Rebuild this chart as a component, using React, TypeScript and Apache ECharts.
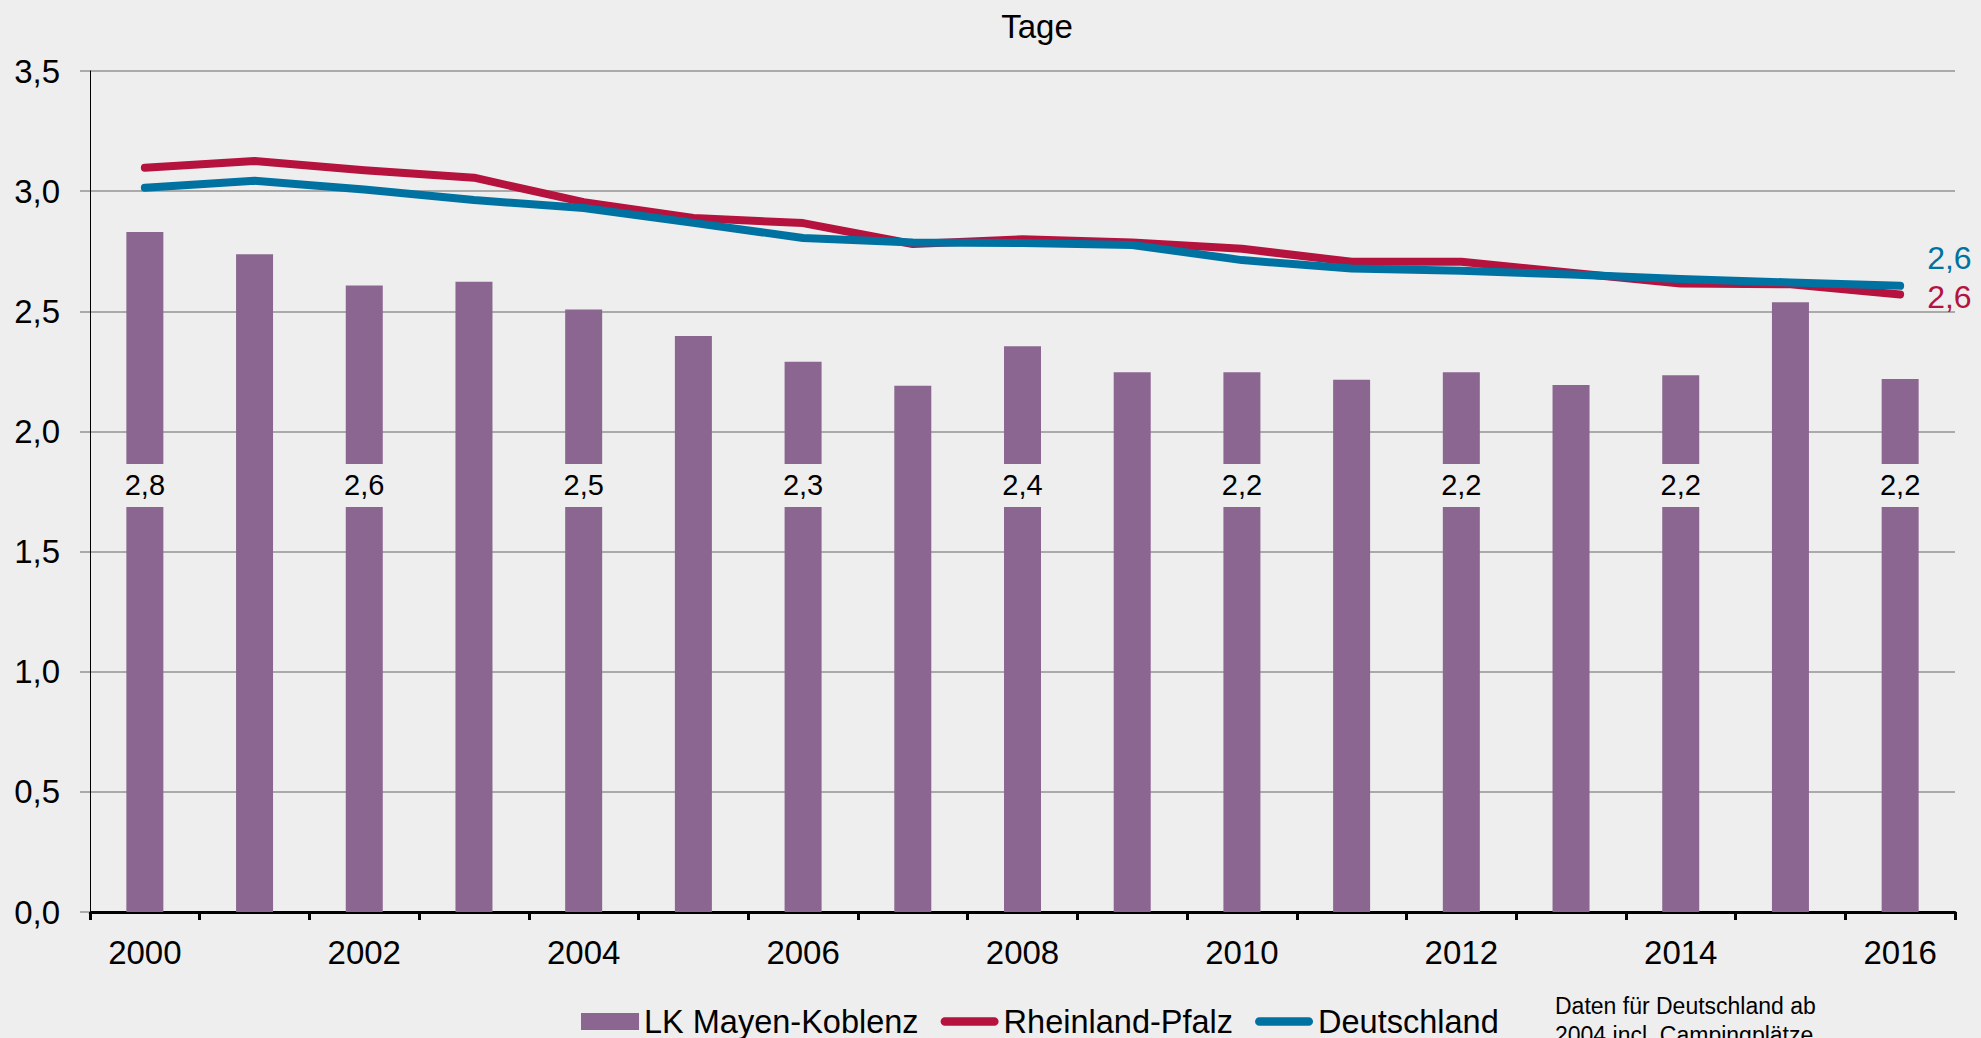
import React, { useEffect, useRef } from "react";
import * as echarts from "echarts";

const years = ["2000", "2001", "2002", "2003", "2004", "2005", "2006", "2007", "2008", "2009", "2010", "2011", "2012", "2013", "2014", "2015", "2016"];
const lkValues = [2.83, 2.737, 2.607, 2.623, 2.507, 2.397, 2.29, 2.19, 2.355, 2.246, 2.246, 2.215, 2.246, 2.193, 2.234, 2.538, 2.218];
const rlpValues = [3.097, 3.125, 3.087, 3.056, 2.954, 2.888, 2.867, 2.78, 2.8, 2.786, 2.76, 2.706, 2.706, 2.66, 2.616, 2.612, 2.57];
const deValues = [3.014, 3.043, 3.007, 2.963, 2.93, 2.868, 2.805, 2.786, 2.784, 2.776, 2.713, 2.678, 2.669, 2.653, 2.634, 2.62, 2.606];
const labelledYears = ["2000", "2002", "2004", "2006", "2008", "2010", "2012", "2014", "2016"];
const LABEL_LEVEL = 1.775;
const yTicks = { min: 0, max: 3.5, interval: 0.5 };
const titleText = "Tage";
const noteText = "Daten für Deutschland ab\n2004 incl. Campingplätze";

const FONT = "'Liberation Sans', Arial, Helvetica, sans-serif";
const BG = "#eeeeee";
const PURPLE = "#8b6690";
const RED = "#b5123e";
const BLUE = "#0072a2";
const LINE_ICON = "path://M4.5,0 L56.5,0 A4.5,4.5 0 0 1 56.5,9 L4.5,9 A4.5,4.5 0 0 1 4.5,0 Z";

const fmt = (v: number) => v.toFixed(1).replace(".", ",");

export default function App() {
  const ref = useRef<HTMLDivElement>(null);
  useEffect(() => {
    if (!ref.current) return;
    const chart = echarts.init(ref.current, null, { renderer: "svg" });
    const labelData = years.map((y) => (labelledYears.includes(y) ? LABEL_LEVEL : "-"));
    chart.setOption({
      animation: false,
      backgroundColor: BG,
      textStyle: { fontFamily: FONT },
      grid: { left: 90, right: 26, top: 71, bottom: 126 },
      legend: {
        left: 581,
        top: 1005,
        padding: 0,
        itemWidth: 58,
        itemHeight: 17,
        itemGap: 22,
        symbolKeepAspect: true,
        textStyle: { fontSize: 32.5, color: "#000", fontFamily: FONT },
        data: [
          { name: "LK Mayen-Koblenz", icon: "rect" },
          { name: "Rheinland-Pfalz", icon: LINE_ICON },
          { name: "Deutschland", icon: LINE_ICON },
        ],
      },
      xAxis: {
        type: "category",
        data: years,
        boundaryGap: true,
        axisLine: { show: true, lineStyle: { color: "#000", width: 3 } },
        axisTick: { show: true, interval: 0, length: 8, lineStyle: { color: "#000", width: 3 } },
        axisLabel: { interval: 1, margin: 24, fontSize: 33, color: "#000", fontFamily: FONT },
        splitLine: { show: false },
      },
      yAxis: {
        type: "value",
        min: yTicks.min,
        max: yTicks.max,
        interval: yTicks.interval,
        axisLine: { show: true, lineStyle: { color: "#000", width: 1 } },
        axisTick: { show: true, length: 10, lineStyle: { color: "#aaaaaa", width: 2 } },
        axisLabel: { margin: 30, fontSize: 33, color: "#000", fontFamily: FONT, formatter: (v: number) => fmt(v) },
        splitLine: { show: true, lineStyle: { color: "#aaaaaa", width: 2 } },
      },
      series: [
        {
          name: "LK Mayen-Koblenz",
          type: "bar",
          data: lkValues,
          barWidth: 37,
          itemStyle: { color: PURPLE },
          z: 2,
        },
        {
          name: "Rheinland-Pfalz",
          type: "line",
          data: rlpValues,
          symbol: "none",
          lineStyle: { color: RED, width: 8, cap: "round", join: "round" },
          itemStyle: { color: RED },
          z: 4,
          endLabel: {
            show: true,
            formatter: (p: any) => fmt(p.value),
            color: RED,
            fontSize: 32,
            fontFamily: FONT,
            distance: 5,
            offset: [22, 3],
          },
        },
        {
          name: "Deutschland",
          type: "line",
          data: deValues,
          symbol: "none",
          lineStyle: { color: BLUE, width: 8, cap: "round", join: "round" },
          itemStyle: { color: BLUE },
          z: 5,
          endLabel: {
            show: true,
            formatter: (p: any) => fmt(p.value),
            color: BLUE,
            fontSize: 32,
            fontFamily: FONT,
            distance: 5,
            offset: [22, -28],
          },
        },
        {
          name: "labels",
          type: "scatter",
          data: labelData,
          symbolSize: 0,
          z: 6,
          silent: true,
          itemStyle: { opacity: 1, color: BG },
          label: {
            show: true,
            position: "inside",
            formatter: (p: any) => fmt(lkValues[p.dataIndex]),
            color: "#000",
            opacity: 1,
            fontSize: 29,
            fontFamily: FONT,
            backgroundColor: BG,
            lineHeight: 33,
            padding: [5, 3],
          },
        },
      ],
      graphic: [
        {
          type: "text",
          x: 1037,
          y: 26,
          style: {
            text: titleText,
            fontSize: 33,
            fontFamily: FONT,
            fill: "#000",
            align: "center",
            verticalAlign: "middle",
          },
        },
        {
          type: "text",
          x: 1555,
          y: 991,
          style: {
            text: noteText,
            fontSize: 23,
            lineHeight: 29,
            fontFamily: FONT,
            fill: "#000",
            align: "left",
            verticalAlign: "top",
          },
        },
      ],
    });
    return () => chart.dispose();
  }, []);
  return (
    <div
      ref={ref}
      style={{ position: "absolute", left: 0, top: 0, width: 1981, height: 1038, background: BG }}
    />
  );
}
